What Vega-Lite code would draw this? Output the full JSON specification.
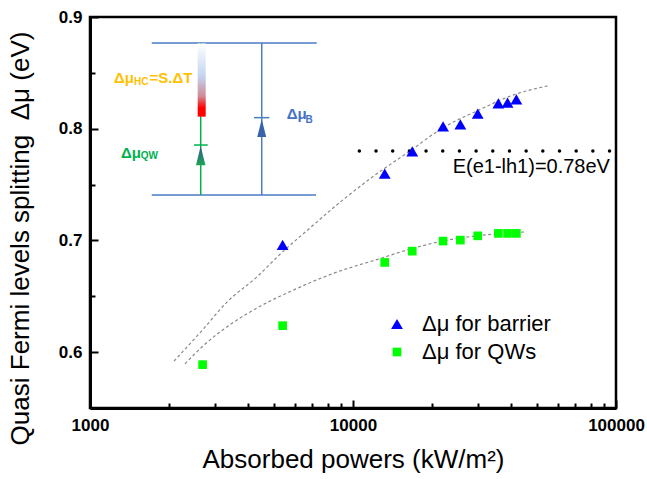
{
  "$schema": "https://vega.github.io/schema/vega-lite/v6.json",
  "width": 526,
  "height": 391,
  "autosize": "none",
  "padding": {"left": 90, "top": 17, "right": 31, "bottom": 71},
  "config": {
    "font": "Liberation Sans",
    "view": {"stroke": "black", "strokeWidth": 2.5},
    "legend": {
      "orient": "none",
      "legendX": 296,
      "legendY": 296,
      "padding": 0,
      "labelFontSize": 22,
      "labelColor": "black",
      "labelFont": "Liberation Sans",
      "rowPadding": 6,
      "labelOffset": 14,
      "symbolStrokeWidth": 0
    }
  },
  "encoding": {
    "x": {
      "field": "x",
      "type": "quantitative",
      "scale": {"type": "log", "domain": [1000, 100000]},
      "axis": {
        "values": [1000, 2000, 3000, 4000, 5000, 6000, 7000, 8000, 9000, 10000, 20000, 30000, 40000, 50000, 60000, 70000, 80000, 90000, 100000],
        "labelExpr": "(datum.value == 1000 || datum.value == 10000 || datum.value == 100000) ? format(datum.value, 'd') : ''",
        "tickSize": {"condition": {"test": "datum.value == 1000 || datum.value == 10000 || datum.value == 100000", "value": -8}, "value": -5},
        "tickColor": "black",
        "tickWidth": 2,
        "domainColor": "black",
        "domainWidth": 3,
        "grid": false,
        "labelFontSize": 17,
        "labelFontWeight": "bold",
        "labelColor": "black",
        "labelPadding": 17,
        "labelOverlap": false,
        "labelFlush": false,
        "title": "Absorbed powers (kW/m²)",
        "titleFontSize": 26,
        "titleFontWeight": "normal",
        "titleColor": "black",
        "titleY": 59,
        "titleBaseline": "alphabetic"
      }
    },
    "y": {
      "field": "y",
      "type": "quantitative",
      "scale": {"domain": [0.55, 0.9], "nice": false, "zero": false},
      "axis": {
        "values": [0.55, 0.6, 0.65, 0.7, 0.75, 0.8, 0.85, 0.9],
        "labelExpr": "abs(datum.value * 10 - round(datum.value * 10)) < 0.001 ? format(datum.value, '.1f') : ''",
        "tickSize": {"condition": {"test": "abs(datum.value * 10 - round(datum.value * 10)) < 0.001", "value": -8}, "value": -5},
        "tickColor": "black",
        "tickWidth": 2,
        "domainColor": "black",
        "domainWidth": 3,
        "grid": false,
        "labelFontSize": 17,
        "labelFontWeight": "bold",
        "labelColor": "black",
        "labelPadding": 16,
        "labelOverlap": false,
        "labelFlush": false,
        "title": "Quasi Fermi levels splitting\u00a0 Δμ (eV)",
        "titleFontSize": 26,
        "titleFontWeight": "normal",
        "titleColor": "black",
        "titleX": -57,
        "titleY": 221,
        "titleBaseline": "bottom"
      }
    }
  },
  "layer": [
    {
      "data": {"values": [
        {"series": "barrier", "x": 2086, "y": 0.5919},
        {"series": "barrier", "x": 2697, "y": 0.6207},
        {"series": "barrier", "x": 3310, "y": 0.6446},
        {"series": "barrier", "x": 4303, "y": 0.6672},
        {"series": "barrier", "x": 5384, "y": 0.6895},
        {"series": "barrier", "x": 6668, "y": 0.7086},
        {"series": "barrier", "x": 9057, "y": 0.7354},
        {"series": "barrier", "x": 11780, "y": 0.7563},
        {"series": "barrier", "x": 16470, "y": 0.7801},
        {"series": "barrier", "x": 22040, "y": 0.801},
        {"series": "barrier", "x": 29530, "y": 0.8158},
        {"series": "barrier", "x": 41300, "y": 0.8307},
        {"series": "barrier", "x": 56100, "y": 0.8388},
        {"series": "qw", "x": 2297, "y": 0.5895},
        {"series": "qw", "x": 2697, "y": 0.6058},
        {"series": "qw", "x": 3406, "y": 0.6245},
        {"series": "qw", "x": 4430, "y": 0.641},
        {"series": "qw", "x": 5929, "y": 0.6555},
        {"series": "qw", "x": 8414, "y": 0.6705},
        {"series": "qw", "x": 12480, "y": 0.6833},
        {"series": "qw", "x": 16470, "y": 0.6922},
        {"series": "qw", "x": 22040, "y": 0.6996},
        {"series": "qw", "x": 29530, "y": 0.7041},
        {"series": "qw", "x": 45770, "y": 0.7077}
      ]},
      "mark": {"type": "line", "color": "#8a8a8a", "strokeWidth": 1.2, "strokeDash": [3, 2.5], "interpolate": "monotone"},
      "encoding": {"detail": {"field": "series"}}
    },
    {
      "data": {"values": [{"x": 10570, "x2": 95500, "y": 0.78}]},
      "mark": {"type": "rule", "color": "black", "strokeWidth": 3.5, "strokeCap": "round", "strokeDash": [0.01, 16.67]},
      "encoding": {"x2": {"field": "x2"}}
    },
    {
      "data": {"values": [{"x": 94850, "y": 0.7608, "t": "E(e1-lh1)=0.78eV"}]},
      "mark": {"type": "text", "align": "right", "baseline": "alphabetic", "fontSize": 20, "color": "black"},
      "encoding": {"text": {"field": "t"}}
    },
    {
      "data": {"values": [
        {"x": 1717, "x2": 7278, "y": 0.8768},
        {"x": 1717, "x2": 7240, "y": 0.7407}
      ]},
      "mark": {"type": "rule", "color": "#4A7BC4", "strokeWidth": 1.5},
      "encoding": {"x2": {"field": "x2"}}
    },
    {
      "data": {"values": [{"x": 2636, "y": 0.8768, "y2": 0.7407}]},
      "mark": {"type": "rule", "color": "#00B050", "strokeWidth": 1.5},
      "encoding": {"y2": {"field": "y2"}}
    },
    {
      "data": {"values": [{"x": 4497, "y": 0.8768, "y2": 0.7407}]},
      "mark": {"type": "rule", "color": "#4A7BC4", "strokeWidth": 1.5},
      "encoding": {"y2": {"field": "y2"}}
    },
    {
      "data": {"values": [{"x": 2567, "x2": 2754, "y": 0.8763, "y2": 0.8108}]},
      "mark": {"type": "rect", "color": {"gradient": "linear", "x1": 0, "y1": 0, "x2": 0, "y2": 1, "stops": [
        {"offset": 0, "color": "#ffffff"},
        {"offset": 0.45, "color": "#c3d4f0"},
        {"offset": 0.72, "color": "#d08a96"},
        {"offset": 0.88, "color": "#ff0000"},
        {"offset": 1, "color": "#ff0000"}
      ]}},
      "encoding": {"x2": {"field": "x2"}, "y2": {"field": "y2"}}
    },
    {
      "data": {"values": [{"x": 2486, "x2": 2803, "y": 0.7854}]},
      "mark": {"type": "rule", "color": "#00B050", "strokeWidth": 1.5},
      "encoding": {"x2": {"field": "x2"}}
    },
    {
      "data": {"values": [{"x": 4203, "x2": 4805, "y": 0.8099}]},
      "mark": {"type": "rule", "color": "#4A7BC4", "strokeWidth": 1.5},
      "encoding": {"x2": {"field": "x2"}}
    },
    {
      "data": {"values": [{"x": 2636, "y": 0.7758}]},
      "mark": {"type": "point", "filled": true, "opacity": 1, "shape": "M0,-1L0.5,1L-0.5,1Z", "size": 361,
        "color": {"gradient": "linear", "x1": 0, "y1": 0, "x2": 0, "y2": 1, "stops": [
          {"offset": 0, "color": "#2F5597"},
          {"offset": 1, "color": "#1FA552"}
        ]}},
      "encoding": {}
    },
    {
      "data": {"values": [{"x": 4497, "y": 0.8005}]},
      "mark": {"type": "point", "filled": true, "opacity": 1, "shape": "M0,-1L0.5,1L-0.5,1Z", "size": 320, "color": "#3763A8"},
      "encoding": {}
    },
    {
      "data": {"values": [{"x": 1234, "y": 0.8412, "t": "Δμ"}, {"x": 1684, "y": 0.8412, "t": "=S.ΔT"}]},
      "mark": {"type": "text", "align": "left", "baseline": "alphabetic", "fontSize": 15, "fontWeight": "bold", "color": "#FFC000"},
      "encoding": {"text": {"field": "t"}}
    },
    {
      "data": {"values": [{"x": 1470, "y": 0.8391, "t": "HC"}]},
      "mark": {"type": "text", "align": "left", "baseline": "alphabetic", "fontSize": 10, "fontWeight": "bold", "color": "#FFC000"},
      "encoding": {"text": {"field": "t"}}
    },
    {
      "data": {"values": [{"x": 1312, "y": 0.7742, "t": "Δμ"}]},
      "mark": {"type": "text", "align": "left", "baseline": "alphabetic", "fontSize": 15, "fontWeight": "bold", "color": "#00B050"},
      "encoding": {"text": {"field": "t"}}
    },
    {
      "data": {"values": [{"x": 1560, "y": 0.7727, "t": "QW"}]},
      "mark": {"type": "text", "align": "left", "baseline": "alphabetic", "fontSize": 10, "fontWeight": "bold", "color": "#00B050"},
      "encoding": {"text": {"field": "t"}}
    },
    {
      "data": {"values": [{"x": 5596, "y": 0.8084, "t": "Δμ"}]},
      "mark": {"type": "text", "align": "left", "baseline": "alphabetic", "fontSize": 15, "fontWeight": "bold", "color": "#4472C4"},
      "encoding": {"text": {"field": "t"}}
    },
    {
      "data": {"values": [{"x": 6600, "y": 0.8048, "t": "B"}]},
      "mark": {"type": "text", "align": "left", "baseline": "alphabetic", "fontSize": 10, "fontWeight": "bold", "color": "#4472C4"},
      "encoding": {"text": {"field": "t"}}
    },
    {
      "data": {"values": [
        {"s": "Δμ for barrier", "x": 5400, "y": 0.6961},
        {"s": "Δμ for barrier", "x": 13200, "y": 0.7597},
        {"s": "Δμ for barrier", "x": 16800, "y": 0.7798},
        {"s": "Δμ for barrier", "x": 22000, "y": 0.8021},
        {"s": "Δμ for barrier", "x": 25600, "y": 0.8039},
        {"s": "Δμ for barrier", "x": 29800, "y": 0.8135},
        {"s": "Δμ for barrier", "x": 35700, "y": 0.8227},
        {"s": "Δμ for barrier", "x": 38700, "y": 0.8233},
        {"s": "Δμ for barrier", "x": 41800, "y": 0.8263},
        {"s": "Δμ for QWs", "x": 2680, "y": 0.5888},
        {"s": "Δμ for QWs", "x": 5400, "y": 0.6237},
        {"s": "Δμ for QWs", "x": 13200, "y": 0.6803},
        {"s": "Δμ for QWs", "x": 16800, "y": 0.6904},
        {"s": "Δμ for QWs", "x": 22000, "y": 0.6994},
        {"s": "Δμ for QWs", "x": 25600, "y": 0.7003},
        {"s": "Δμ for QWs", "x": 29800, "y": 0.7041},
        {"s": "Δμ for QWs", "x": 35700, "y": 0.7063},
        {"s": "Δμ for QWs", "x": 38700, "y": 0.7063},
        {"s": "Δμ for QWs", "x": 41800, "y": 0.7063}
      ]},
      "mark": {"type": "point", "filled": true, "opacity": 1},
      "encoding": {
        "color": {"field": "s", "type": "nominal", "scale": {"domain": ["Δμ for barrier", "Δμ for QWs"], "range": ["#0000FF", "#00FF00"]}, "legend": {"title": null}},
        "shape": {"field": "s", "type": "nominal", "scale": {"domain": ["Δμ for barrier", "Δμ for QWs"], "range": ["triangle-up", "square"]}, "legend": {"title": null}},
        "size": {"field": "s", "type": "nominal", "scale": {"domain": ["Δμ for barrier", "Δμ for QWs"], "range": [140, 75]}, "legend": null}
      }
    }
  ]
}
